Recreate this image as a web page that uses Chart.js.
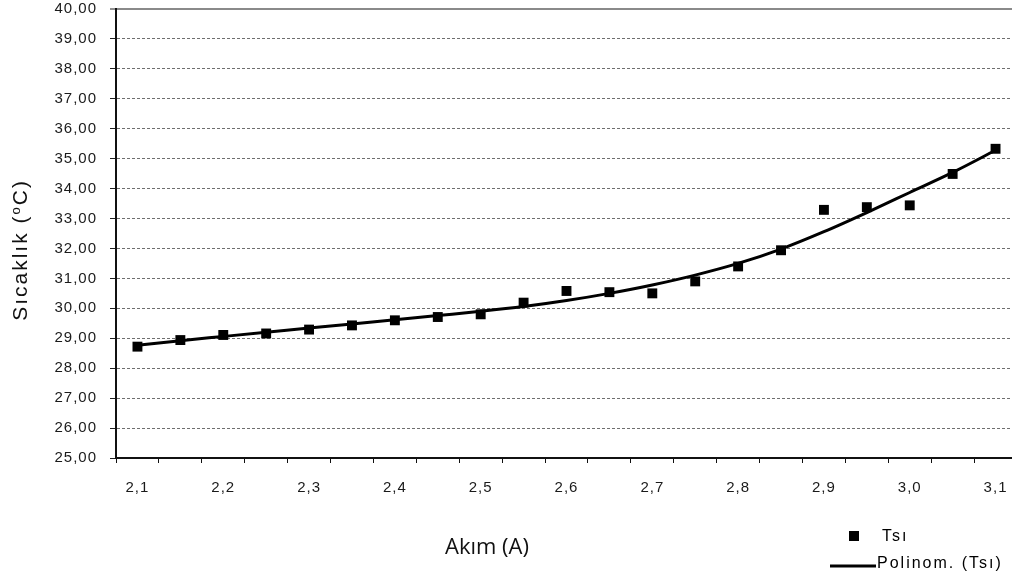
<!DOCTYPE html>
<html>
<head>
<meta charset="utf-8">
<script src="https://cdn.jsdelivr.net/npm/chart.js@4/dist/chart.umd.min.js"></script>
<style>
  html, body { margin: 0; padding: 0; background: #fff; }
  #wrap { width: 1012px; height: 580px; overflow: hidden; position: relative; }
  canvas { display: block; }
</style>
</head>
<body>
<div id="wrap"><canvas id="chart" width="1030" height="580"></canvas></div>
<script>
// Current (A) categories
const currentA = [2.10, 2.15, 2.20, 2.25, 2.30, 2.35, 2.40, 2.45, 2.50, 2.55, 2.60,
                  2.65, 2.70, 2.75, 2.80, 2.85, 2.90, 2.95, 3.00, 3.05, 3.10];
// Labels shown under the x axis (every other category)
const xTickLabels = ['2,1', '', '2,2', '', '2,3', '', '2,4', '', '2,5', '', '2,6',
                     '', '2,7', '', '2,8', '', '2,9', '', '3,0', '', '3,1'];
// Measured temperature Tsı (°C)
const tsi = [28.72, 28.94, 29.11, 29.16, 29.29, 29.43, 29.60, 29.71, 29.80, 30.19, 30.58,
             30.54, 30.50, 30.90, 31.40, 31.94, 33.29, 33.38, 33.44, 34.49, 35.33];
// Polynomial trend line through Tsı
const tsiTrend = [28.77, 28.92, 29.06, 29.20, 29.34, 29.48, 29.62, 29.76, 29.90, 30.06, 30.26,
                  30.50, 30.78, 31.11, 31.50, 31.98, 32.56, 33.20, 33.87, 34.54, 35.28];
// Y axis range
const yMin = 25, yMax = 40, yStep = 1;

const BASE_FONT = "'Liberation Sans', Arial, sans-serif";

// Axis titles and legend drawn onto the canvas
const decorations = {
  id: 'decorations',
  beforeDraw(chart) {
    chart.ctx.letterSpacing = '1px';
  },
  afterDraw(chart) {
    const ctx = chart.ctx;
    ctx.save();
    ctx.fillStyle = '#111';

    // Y axis title: "Sıcaklık (oC)" with raised small o
    ctx.save();
    ctx.translate(21, 250);
    ctx.rotate(-Math.PI / 2);
    ctx.letterSpacing = '2px';
    ctx.textBaseline = 'middle';
    ctx.textAlign = 'left';
    const big = '21px ' + BASE_FONT, small = '13px ' + BASE_FONT;
    const p1 = 'Sıcaklık (', p2 = 'o', p3 = 'C)';
    ctx.font = big; const w1 = ctx.measureText(p1).width, w3 = ctx.measureText(p3).width;
    ctx.font = small; const w2 = ctx.measureText(p2).width;
    let x = -(w1 + w2 + w3) / 2;
    ctx.font = big; ctx.fillText(p1, x, 0); x += w1;
    ctx.font = small; ctx.fillText(p2, x, -5); x += w2;
    ctx.font = big; ctx.fillText(p3, x, 0);
    ctx.restore();

    // X axis title
    ctx.save();
    ctx.letterSpacing = '0px';
    ctx.font = "22px 'Open Sans', sans-serif";
    ctx.textAlign = 'center';
    ctx.textBaseline = 'alphabetic';
    ctx.fillText('Akım (A)', 487, 554);
    ctx.restore();

    // Legend
    ctx.save();
    ctx.letterSpacing = '2px';
    ctx.font = '16px ' + BASE_FONT;
    ctx.textAlign = 'left';
    ctx.textBaseline = 'middle';
    ctx.fillStyle = '#000';
    ctx.fillRect(849, 531, 10, 10);
    ctx.fillText('Tsı', 882, 537);
    ctx.strokeStyle = '#000';
    ctx.lineWidth = 3;
    ctx.beginPath();
    ctx.moveTo(830, 566);
    ctx.lineTo(876, 566);
    ctx.stroke();
    ctx.fillText('Polinom. (Tsı)', 877, 564);
    ctx.restore();

    ctx.restore();
  }
};

Chart.defaults.font.family = BASE_FONT;
Chart.defaults.color = '#1a1a1a';

new Chart(document.getElementById('chart'), {
  type: 'line',
  data: {
    labels: currentA,
    datasets: [
      {
        label: 'Tsı',
        data: tsi,
        showLine: false,
        pointStyle: 'rect',
        pointRadius: 7,
        pointHoverRadius: 7,
        pointBackgroundColor: '#000',
        pointBorderColor: '#000',
        pointBorderWidth: 0,
        order: 1
      },
      {
        label: 'Polinom. (Tsı)',
        data: tsiTrend,
        borderColor: '#000',
        borderWidth: 3,
        pointRadius: 0,
        cubicInterpolationMode: 'monotone',
        fill: false,
        order: 2
      }
    ]
  },
  options: {
    responsive: false,
    animation: false,
    events: [],
    layout: { padding: { left: 0, top: 9, right: 13, bottom: 0 } },
    plugins: {
      legend: { display: false },
      tooltip: { enabled: false },
      title: { display: false }
    },
    scales: {
      x: {
        type: 'category',
        offset: true,
        grid: {
          offset: true,
          drawOnChartArea: false,
          drawTicks: true,
          tickLength: 5,
          tickColor: '#111',
          tickWidth: 1
        },
        border: { display: true, color: '#111', width: 2 },
        ticks: {
          autoSkip: false,
          maxRotation: 0,
          minRotation: 0,
          padding: 16,
          font: { size: 15 },
          callback: (v, i) => xTickLabels[i]
        },
        afterFit: (scale) => {
          scale.height = 122;
          scale.paddingLeft = 0;
          scale.paddingRight = 0;
        }
      },
      y: {
        min: yMin,
        max: yMax,
        grid: {
          color: (c) => (c.tick && c.tick.value === yMax) ? '#8a8a8a' : '#6e6e6e',
          lineWidth: (c) => (c.tick && c.tick.value === yMax) ? 2 : 1,
          drawTicks: true,
          tickLength: 6,
          tickColor: '#222',
          tickWidth: 1,
          tickBorderDash: []
        },
        border: {
          display: true,
          color: '#111',
          width: 2,
          dash: (c) => (c.tick && c.tick.value === yMax) ? [] : [3, 2]
        },
        ticks: {
          stepSize: yStep,
          padding: 13,
          font: { size: 15 },
          callback: (v) => v.toFixed(2).replace('.', ',')
        },
        afterFit: (scale) => {
          scale.width = 116;
          scale.paddingTop = 0;
          scale.paddingBottom = 0;
        }
      }
    }
  },
  plugins: [decorations]
});
</script>
</body>
</html>
